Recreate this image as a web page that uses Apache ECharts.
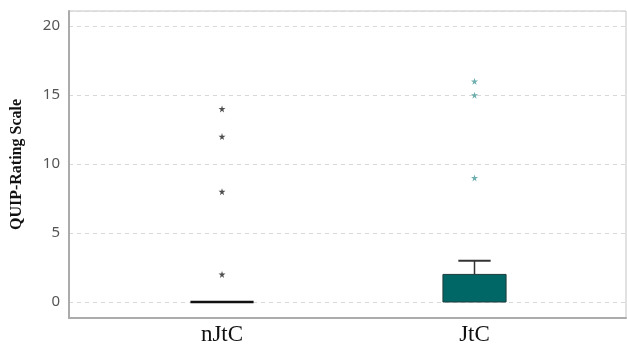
<!DOCTYPE html>
<html>
<head>
<meta charset="utf-8">
<script src="https://cdn.jsdelivr.net/npm/echarts@6/dist/echarts.min.js"></script>
<style>html,body{margin:0;padding:0;background:#fff}#c{width:627px;height:347px}</style>
</head>
<body>
<div id="c"></div>
<script>
// Data
var categories = ['nJtC', 'JtC'];
var categoryPos = [1, 2];
// [min, q1, median, q3, max]
var boxStats = [
  [0, 0, 0, 0, 0],
  [0, 0, 0, 2, 3]
];
var outliersNJtC = [14, 12, 8, 2];
var outliersJtC = [16, 15, 9];
var yTicks = [0, 5, 10, 15, 20];

var boxData = boxStats.map(function (s, i) { return [categoryPos[i]].concat(s); });
var starPath = 'path://M50,0 L61,35 L98,35 L68,57 L79,91 L50,70 L21,91 L32,57 L2,35 L39,35 Z';

var chart = echarts.init(document.getElementById('c'), null, {renderer: 'canvas'});
chart.setOption({
  animation: false,
  grid: {left: 69, top: 11, right: 1, bottom: 29, show: true, borderColor: '#c4c4c4', borderWidth: 1,
    backgroundColor: 'transparent', containLabel: false, outerBoundsMode: 'none'},
  xAxis: {
    type: 'value', min: 0.394, max: 2.6,
    axisLine: {show: true, onZero: false, lineStyle: {color: '#ababab', width: 2}},
    axisTick: {show: false},
    splitLine: {show: false},
    axisLabel: {
      customValues: categoryPos,
      formatter: function (v) { var i = categoryPos.indexOf(v); return i >= 0 ? categories[i] : ''; },
      fontFamily: 'Liberation Serif', fontSize: 23, color: '#111', margin: 5
    }
  },
  yAxis: {
    type: 'value', min: -1.16, max: 21.1,
    name: 'QUIP-Rating Scale', nameLocation: 'middle', nameRotate: 90, nameGap: 44,
    nameTextStyle: {fontFamily: 'Liberation Serif', fontWeight: 'bold', fontSize: 16, color: '#111'},
    axisLine: {show: true, lineStyle: {color: '#ababab', width: 2}},
    axisTick: {show: false},
    splitLine: {show: true, lineStyle: {color: '#d8d8d8', type: [4, 4], width: 1}},
    axisLabel: {
      customValues: yTicks,
      fontFamily: 'Noto Sans', fontSize: 15, color: '#555', margin: 9
    }
  },
  series: [
    {
      type: 'custom',
      data: boxData,
      encode: {x: 0, y: [1, 2, 3, 4, 5]},
      renderItem: function (params, api) {
        var x = api.value(0);
        var mn = api.value(1), q1 = api.value(2), md = api.value(3), q3 = api.value(4), mx = api.value(5);
        var halfW = 0.125, capW = 0.064;
        var pL = api.coord([x - halfW, q3]);
        var pR = api.coord([x + halfW, q1]);
        var children = [];
        if (q3 > q1) {
          children.push({type: 'rect', shape: {x: pL[0], y: pL[1], width: pR[0] - pL[0], height: pR[1] - pL[1]},
            style: {fill: '#006666', stroke: '#1e3c3c', lineWidth: 1}});
        }
        var top = api.coord([x, mx]), q3p = api.coord([x, q3]);
        if (mx > q3) {
          children.push({type: 'line', shape: {x1: top[0], y1: top[1], x2: q3p[0], y2: q3p[1]}, style: {stroke: '#333', lineWidth: 1.5}});
          var cl = api.coord([x - capW, mx]), cr = api.coord([x + capW, mx]);
          children.push({type: 'line', shape: {x1: cl[0], y1: cl[1], x2: cr[0], y2: cr[1]}, style: {stroke: '#333', lineWidth: 2}});
        }
        var ml = api.coord([x - halfW, md]), mr = api.coord([x + halfW, md]);
        if (q3 === q1) {
          children.push({type: 'line', shape: {x1: ml[0], y1: ml[1], x2: mr[0], y2: mr[1]}, style: {stroke: '#111', lineWidth: 2.5}});
        }
        return {type: 'group', children: children};
      },
      z: 3
    },
    {
      type: 'scatter',
      data: outliersNJtC.map(function (v) { return [categoryPos[0], v]; }),
      symbol: starPath, symbolSize: 7,
      itemStyle: {color: '#222'}, z: 4
    },
    {
      type: 'scatter',
      data: outliersJtC.map(function (v) { return [categoryPos[1], v]; }),
      symbol: starPath, symbolSize: 7,
      itemStyle: {color: '#4a9a9a'}, z: 4
    }
  ]
});
</script>
</body>
</html>
